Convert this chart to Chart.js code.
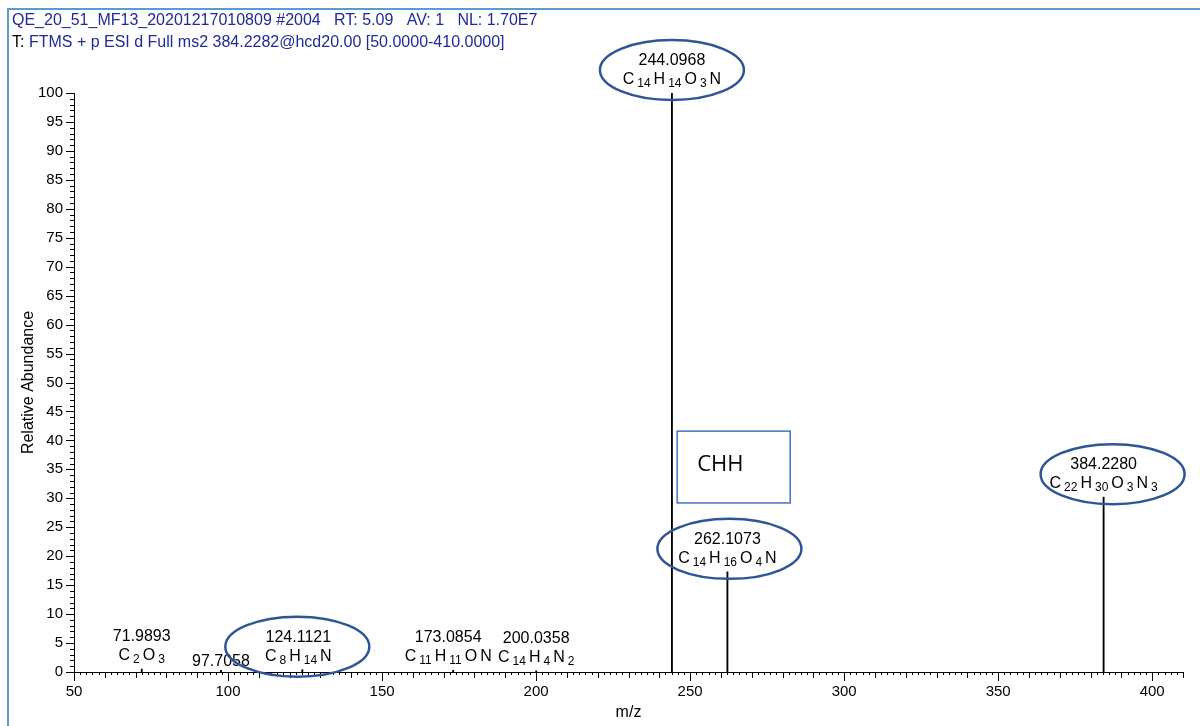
<!DOCTYPE html>
<html>
<head>
<meta charset="utf-8">
<script src="https://cdn.jsdelivr.net/npm/chart.js@4.4.1/dist/chart.umd.min.js"></script>
<style>
  html, body { margin: 0; padding: 0; background: #fff; }
  #wrap { width: 1200px; height: 726px; position: relative; }
</style>
</head>
<body>
<div id="wrap"><canvas id="spectrum"></canvas></div>
<script>
// peaks of the ms2 spectrum
const mzValues = [71.9893, 97.7058, 124.1121, 173.0854, 200.0358, 244.0968, 262.1073, 384.2280]
const abundance = [0.5, 0.3, 0.4, 0.3, 0.2, 100, 17.3, 30.2]
const formulas = ["C2O3", "", "C8H14N", "C11H11ON", "C14H4N2", "C14H14O3N", "C14H16O4N", "C22H30O3N3"]
const circled = [124.1121, 244.0968, 262.1073, 384.2280]

const xTicks = [50, 100, 150, 200, 250, 300, 350, 400]
const yTicks = [0, 5, 10, 15, 20, 25, 30, 35, 40, 45, 50, 55, 60, 65, 70, 75, 80, 85, 90, 95, 100]

const headerLine1 = "QE_20_51_MF13_20201217010809 #2004   RT: 5.09   AV: 1   NL: 1.70E7"
const headerLine2 = "T: FTMS + p ESI d Full ms2 384.2282@hcd20.00 [50.0000-410.0000]"
const boxText = "CHH"

const FONT = "'Liberation Sans', Arial, sans-serif"
const BLUE_TEXT = "#1f2a9c"
const ELLIPSE = "#2f5597"

// label nudges (px) so crowded labels do not collide, ellipse offsets from the label
const labelShift = { "124.1121": -4, "173.0854": -5 }
const ellipseShift = { "124.1121": -1, "262.1073": 2, "384.2280": 9 }

function drawFormula(ctx, formula, cx, baseline) {
    const parts = []
    formula.replace(/([A-Z][a-z]?)(\d*)/g, (m, el, n) => { parts.push([el, n]) })
    const gap = 3
    const pieces = []
    parts.forEach(([el, n]) => {
        ctx.font = "16px " + FONT
        pieces.push({ t: el, size: 16, dy: 0, w: ctx.measureText(el).width })
        if (n) {
            ctx.font = "12px " + FONT
            pieces.push({ t: n, size: 12, dy: 3, w: ctx.measureText(n).width })
        }
    })
    const total = pieces.reduce((s, p) => s + p.w, 0) + gap * (pieces.length - 1)
    let x = cx - total / 2
    ctx.textAlign = "left"
    pieces.forEach(p => {
        ctx.font = p.size + "px " + FONT
        ctx.fillText(p.t, x, baseline + p.dy)
        x += p.w + gap
    })
}

const decorations = {
    id: "decorations",
    beforeDraw(chart) {
        const ctx = chart.ctx
        ctx.save()
        // frame
        ctx.strokeStyle = "#5b9bd5"
        ctx.lineWidth = 2
        ctx.beginPath()
        ctx.moveTo(8, 730)
        ctx.lineTo(8, 9)
        ctx.lineTo(1205, 9)
        ctx.stroke()
        // header
        ctx.font = "16px " + FONT
        ctx.textAlign = "left"
        ctx.textBaseline = "alphabetic"
        ctx.fillStyle = BLUE_TEXT
        ctx.fillText(headerLine1, 12, 25)
        ctx.fillStyle = "#000"
        ctx.fillText("T:", 12, 47)
        const tw = ctx.measureText("T: ").width
        ctx.fillStyle = BLUE_TEXT
        ctx.fillText(headerLine2.slice(3), 12 + tw, 47)
        ctx.restore()
    },
    afterDraw(chart) {
        const ctx = chart.ctx
        const xs = chart.scales.x
        const ys = chart.scales.y
        const area = chart.chartArea
        ctx.save()
        ctx.strokeStyle = "#000"
        ctx.lineWidth = 1
        ctx.beginPath()
        for (let v = 50; v <= 410; v += 2) {
            const len = v % 50 === 0 ? 9 : (v % 10 === 0 ? 6 : 3)
            const px = Math.round(xs.getPixelForValue(v)) + 0.5
            ctx.moveTo(px, area.bottom)
            ctx.lineTo(px, area.bottom + len)
        }
        for (let v = 0; v <= 100; v += 1) {
            const len = v % 5 === 0 ? 8 : 4
            const py = Math.round(ys.getPixelForValue(v)) + 0.5
            ctx.moveTo(area.left, py)
            ctx.lineTo(area.left - len, py)
        }
        ctx.stroke()

        // axis titles
        ctx.fillStyle = "#000"
        ctx.font = "16px " + FONT
        ctx.textAlign = "center"
        ctx.textBaseline = "middle"
        ctx.fillText("m/z", (area.left + area.right) / 2, 713)
        ctx.save()
        ctx.translate(29, (area.top + area.bottom) / 2)
        ctx.rotate(-Math.PI / 2)
        ctx.fillText("Relative Abundance", 0, 0)
        ctx.restore()

        // peak labels
        ctx.textBaseline = "alphabetic"
        mzValues.forEach((mz, i) => {
            const key = mz.toFixed(4)
            const px = xs.getPixelForValue(mz) + (labelShift[key] || 0)
            const py = ys.getPixelForValue(abundance[i])
            ctx.fillStyle = "#000"
            ctx.font = "16px " + FONT
            ctx.textAlign = "center"
            if (formulas[i]) {
                ctx.fillText(key, px, py - 28)
                drawFormula(ctx, formulas[i], px, py - 9)
            } else {
                ctx.fillText(key, px, py - 4)
            }
            if (circled.includes(mz)) {
                const dx = ellipseShift[key] || 0
                ctx.strokeStyle = ELLIPSE
                ctx.lineWidth = 2.5
                ctx.beginPath()
                ctx.ellipse(px + dx, py - 23, 72, 30, 0, 0, Math.PI * 2)
                ctx.stroke()
            }
        })

        // CHH box
        const bx1 = xs.getPixelForValue(245.8), bx2 = xs.getPixelForValue(282.5)
        const by1 = ys.getPixelForValue(41.6), by2 = ys.getPixelForValue(29.2)
        ctx.strokeStyle = "#4472c4"
        ctx.lineWidth = 1.5
        ctx.strokeRect(bx1, by1, bx2 - bx1, by2 - by1)
        ctx.fillStyle = "#000"
        ctx.font = "22px 'Open Sans', sans-serif"
        ctx.textAlign = "left"
        ctx.fillText(boxText, bx1 + 20, by1 + 40)
        ctx.restore()
    }
}

const peakData = mzValues.map((mz, i) => ({ x: mz, y: abundance[i] }))

const config = {
    type: "bar",
    data: {
        datasets: [{
            data: peakData,
            backgroundColor: "#000",
            borderWidth: 0,
            barThickness: 1.2
        }]
    },
    options: {
        responsive: false,
        animation: false,
        layout: { padding: { left: 0, right: 17, top: 93, bottom: 0 } },
        plugins: {
            legend: { display: false },
            tooltip: { enabled: false }
        },
        scales: {
            x: {
                type: "linear",
                min: 50,
                max: 410,
                offset: false,
                grid: { display: false },
                border: { display: true, color: "#000", width: 1 },
                afterBuildTicks: scale => { scale.ticks = xTicks.map(v => ({ value: v })) },
                afterFit: scale => { scale.height = 54 },
                ticks: {
                    autoSkip: false,
                    maxRotation: 0,
                    padding: 3,
                    color: "#000",
                    font: { family: FONT, size: 15 }
                }
            },
            y: {
                min: 0,
                max: 100,
                grid: { display: false },
                border: { display: true, color: "#000", width: 1 },
                afterBuildTicks: scale => { scale.ticks = yTicks.map(v => ({ value: v })) },
                afterFit: scale => { scale.width = 74 },
                ticks: {
                    autoSkip: false,
                    padding: 3,
                    color: "#000",
                    font: { family: FONT, size: 15 }
                }
            }
        }
    },
    plugins: [decorations]
}

const canvas = document.getElementById("spectrum")
canvas.width = 1200
canvas.height = 726
const myChart = new Chart(canvas, config)
</script>
</body>
</html>
